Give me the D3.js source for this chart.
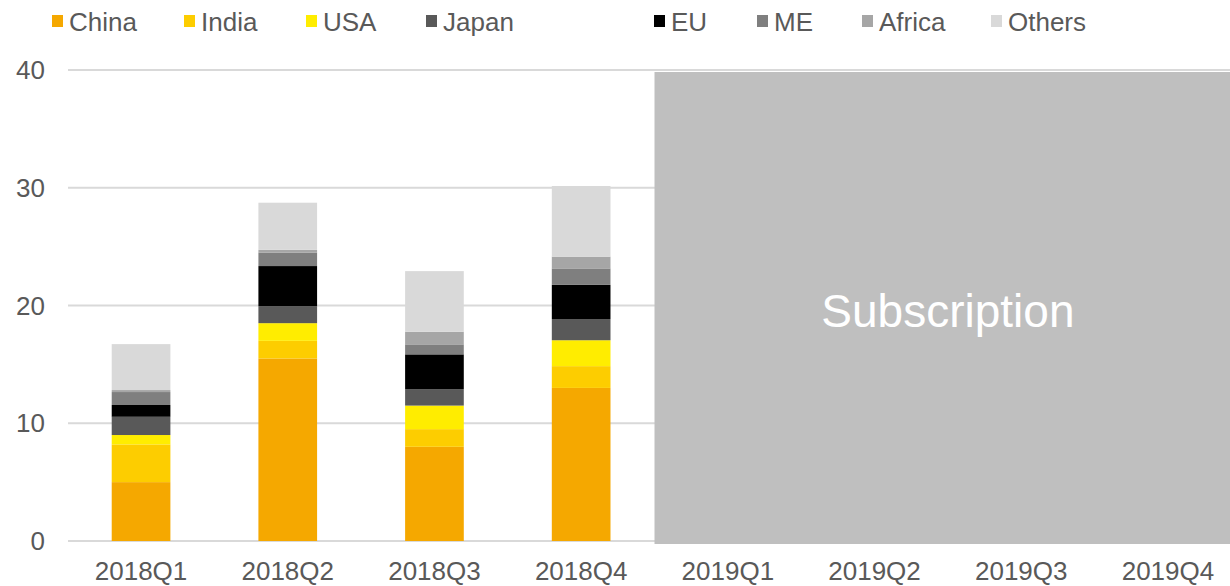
<!DOCTYPE html>
<html>
<head>
<meta charset="utf-8">
<script src="https://cdn.jsdelivr.net/npm/d3@7"></script>
<style>
  body { margin: 0; background: #fff; }
  svg { display: block; font-family: "Liberation Sans", Arial, sans-serif; }
</style>
</head>
<body>
<div id="container"></div>
<script>
// data
let quarters = ["2018Q1", "2018Q2", "2018Q3", "2018Q4", "2019Q1", "2019Q2", "2019Q3", "2019Q4"];
let regions = ["China", "India", "USA", "Japan", "EU", "ME", "Africa", "Others"];
let china  = [5.0, 15.5, 8.0, 13.0];
let india  = [3.2, 1.5, 1.5, 1.85];
let usa    = [0.8, 1.5, 2.0, 2.2];
let japan  = [1.55, 1.45, 1.4, 1.8];
let eu     = [1.0, 3.4, 2.95, 2.9];
let me     = [1.1, 1.15, 0.85, 1.4];
let africa = [0.17, 0.23, 1.07, 1.0];
let others = [3.9, 4.0, 5.15, 6.0];
let yTicks = [0, 10, 20, 30, 40];
let boxLabel = "Subscription";

let colors = ["#f5a800", "#fdcd00", "#ffed00", "#595959", "#000000", "#7f7f7f", "#a6a6a6", "#d9d9d9"];

let w = 1230;
let h = 586;

let viz = d3.select("#container")
  .append("svg")
    .attr("width", w)
    .attr("height", h)
    .style("overflow", "hidden")
;

// build rows for the stack
let series = [china, india, usa, japan, eu, me, africa, others];
let rows = china.map(function(d, i){
  let row = { quarter: quarters[i] };
  regions.forEach(function(r, j){ row[r] = series[j][i]; });
  return row;
});
let stacked = d3.stack().keys(regions)(rows);

let xScale = d3.scaleBand().domain(quarters).range([67.7, 1241.3])
  .paddingInner(0.6).paddingOuter(0.3);
let yScale = d3.scaleLinear().domain([0, 40]).range([541, 70]);

// gridlines
viz.append("g").selectAll("line").data(yTicks).enter()
  .append("line")
    .attr("x1", 68)
    .attr("x2", 1241)
    .attr("y1", function(d){ return yScale(d); })
    .attr("y2", function(d){ return yScale(d); })
    .attr("stroke", "#d9d9d9")
    .attr("stroke-width", 2)
;

// y labels
viz.append("g").selectAll("text").data(yTicks).enter()
  .append("text")
    .attr("x", 45)
    .attr("y", function(d){ return yScale(d); })
    .attr("dy", "0.35em")
    .attr("text-anchor", "end")
    .attr("font-size", 26)
    .attr("fill", "#595959")
    .text(function(d){ return d; })
;

// bars
let graphGroup = viz.append("g");
graphGroup.selectAll("g").data(stacked).enter()
  .append("g")
    .attr("fill", function(d, i){ return colors[i]; })
  .selectAll("rect").data(function(d){ return d; }).enter()
  .append("rect")
    .attr("x", function(d){ return xScale(d.data.quarter); })
    .attr("width", xScale.bandwidth())
    .attr("y", function(d){ return yScale(d[1]); })
    .attr("height", function(d){ return yScale(d[0]) - yScale(d[1]); })
;

// grey subscription box over 2019
let boxX = xScale("2019Q1") - xScale.step() * xScale.paddingInner() / 2;
viz.append("rect")
  .attr("x", boxX)
  .attr("y", yScale(40) + 2)
  .attr("width", 1241.3 - boxX)
  .attr("height", yScale(0) + 3 - yScale(40) - 2)
  .attr("fill", "#bfbfbf")
;
viz.append("text")
  .attr("x", (boxX + 1241.3) / 2)
  .attr("y", 311)
  .attr("dy", "0.35em")
  .attr("text-anchor", "middle")
  .attr("font-size", 46)
  .attr("fill", "#ffffff")
  .text(boxLabel)
;

// x labels
viz.append("g").selectAll("text").data(quarters).enter()
  .append("text")
    .attr("x", function(d){ return xScale(d) + xScale.bandwidth() / 2; })
    .attr("y", 580)
    .attr("text-anchor", "middle")
    .attr("font-size", 26)
    .attr("fill", "#595959")
    .text(function(d){ return d; })
;

// legend
let legendX = [52, 184, 306, 426, 654, 757, 862, 991];
let legend = viz.append("g").selectAll("g").data(regions).enter()
  .append("g")
    .attr("transform", function(d, i){ return "translate(" + legendX[i] + ",0)"; })
;
legend.append("rect")
  .attr("x", 0)
  .attr("y", 15)
  .attr("width", 11)
  .attr("height", 12)
  .attr("fill", function(d, i){ return colors[i]; })
;
legend.append("text")
  .attr("x", 17)
  .attr("y", 31)
  .attr("font-size", 26)
  .attr("fill", "#595959")
  .text(function(d){ return d; })
;
</script>
</body>
</html>
